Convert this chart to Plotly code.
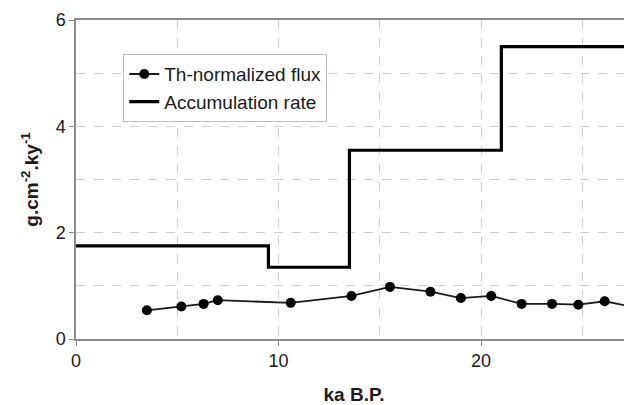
import plotly.graph_objects as go

# Th-normalized flux (ka B.P., g.cm-2.ky-1)
flux_age = [3.5, 5.2, 6.3, 7.0, 10.6, 13.6, 15.5, 17.5, 19.0, 20.5, 22.0, 23.5, 24.8, 26.1, 28.2]
flux_val = [0.54, 0.61, 0.66, 0.73, 0.68, 0.81, 0.98, 0.89, 0.77, 0.81, 0.66, 0.66, 0.645, 0.71, 0.55]

# Accumulation rate (step function)
acc_age = [0, 9.5, 13.5, 21.0, 30.0]
acc_val = [1.75, 1.35, 3.55, 5.5, 5.5]

x_ticks = [0, 10, 20, 30]
y_ticks = [0, 2, 4, 6]

FONT = "Liberation Sans, Arial, sans-serif"
GRID = "#cfcfcf"
AXIS = "#8c8c8c"

fig = go.Figure()
fig.add_trace(go.Scatter(
    x=flux_age, y=flux_val, mode="lines+markers", name="Th-normalized flux",
    line=dict(color="#1a1a1a", width=1.8),
    marker=dict(color="#000000", size=10, symbol="circle"),
))
fig.add_trace(go.Scatter(
    x=acc_age, y=acc_val, mode="lines", name="Accumulation rate",
    line=dict(color="#000000", width=3.2, shape="hv"),
))

fig.update_layout(
    width=624, height=397,
    margin=dict(l=68, r=0, t=12, b=66),
    paper_bgcolor="white", plot_bgcolor="white",
    font=dict(family=FONT, color="#1a1a1a", size=17),
    showlegend=True,
    legend=dict(
        x=0.085, y=0.893, xanchor="left", yanchor="top",
        bgcolor="white", bordercolor="#bdbdbd", borderwidth=1,
        font=dict(family=FONT, size=19, color="#1a1a1a"),
        tracegroupgap=0, itemwidth=30,
    ),
    xaxis=dict(
        range=[0, 27.45], tickvals=x_ticks, ticktext=[str(v) for v in x_ticks],
        showline=True, linecolor=AXIS, linewidth=1.5, mirror=True,
        ticks="outside", ticklen=5, tickcolor=AXIS,
        showgrid=True, gridcolor=GRID, griddash="dash", gridwidth=1,
        minor=dict(dtick=5, tick0=0, showgrid=True, gridcolor=GRID, griddash="dash", gridwidth=1),
        zeroline=False, automargin=False,
        tickfont=dict(size=18),
        title=dict(text="<b>ka B.P.</b>", font=dict(size=19), standoff=18),
    ),
    yaxis=dict(
        range=[0, 6], tickvals=y_ticks, ticktext=[str(v) for v in y_ticks],
        showline=True, linecolor=AXIS, linewidth=1.5, mirror=False,
        ticks="outside", ticklen=5, tickcolor=AXIS,
        showgrid=True, gridcolor=GRID, griddash="dash", gridwidth=1,
        minor=dict(dtick=1, tick0=0, showgrid=True, gridcolor=GRID, griddash="dash", gridwidth=1),
        zeroline=False, automargin=False,
        tickfont=dict(size=18),
        title=dict(text="<b>g.cm<sup>-2</sup>.ky<sup>-1</sup></b>", font=dict(size=19), standoff=12),
    ),
)

fig.write_html("out.html")
